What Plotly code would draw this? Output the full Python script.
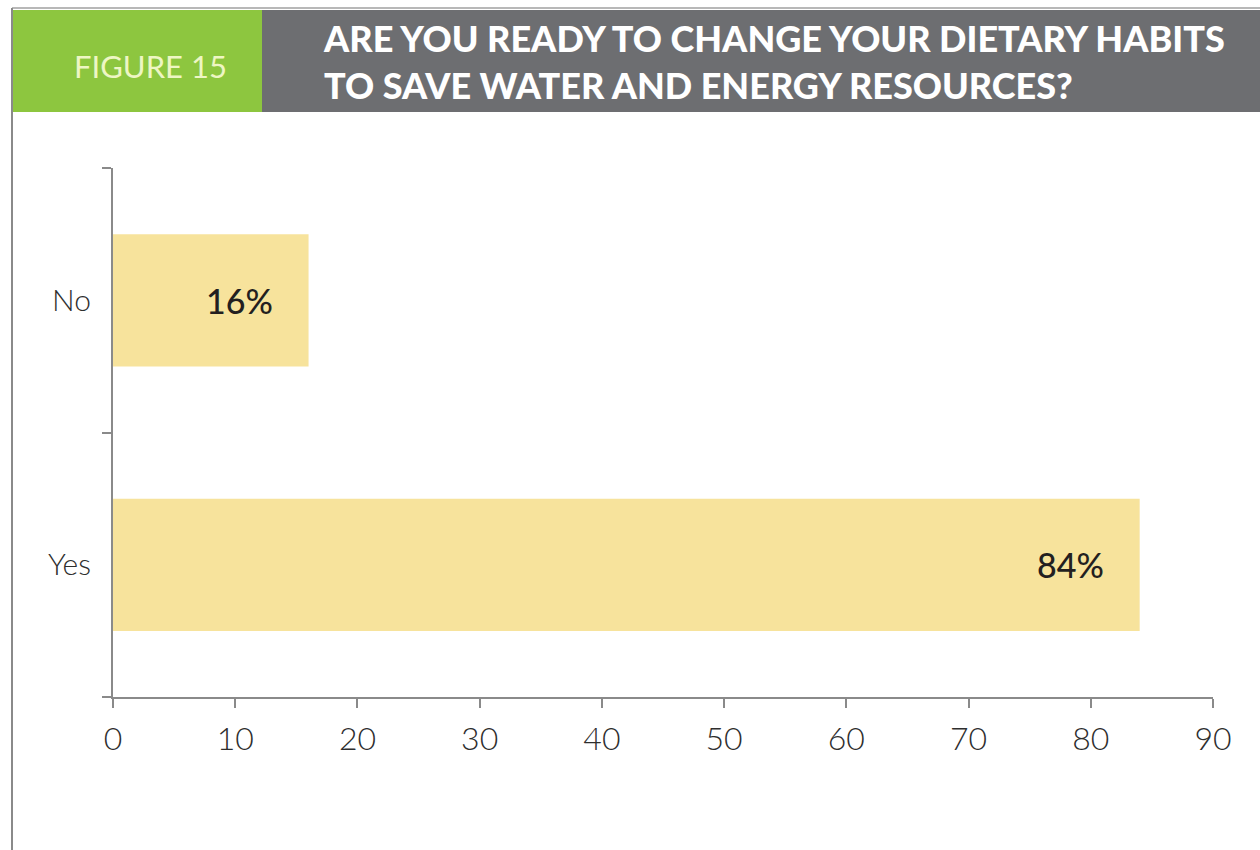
import plotly.graph_objects as go

# Survey answers (top to bottom as drawn: No, Yes)
answers = ["Yes", "No"]
shares = [84, 16]
x_ticks = [0, 10, 20, 30, 40, 50, 60, 70, 80, 90]

W, H = 1260, 850
L, R, T, B = 113, 47, 168, 153
PW, PH = W - L - R, H - T - B


def px_x(p):
    return (p - L) / PW


def px_y(p):
    return (H - B - p) / PH


BAR = "#f7e39c"
AXIS = "#8a8a8a"
GREEN = "#8dc63f"
GREY = "#6d6e71"
LABEL_FONT = "Lato"

fig = go.Figure(
    go.Bar(
        x=shares,
        y=answers,
        orientation="h",
        width=0.5,
        marker=dict(color=BAR, line=dict(width=0)),
        hoverinfo="skip",
    )
)

# value labels just inside the bar ends
for a, v in zip(answers, shares):
    fig.add_annotation(
        x=v, y=a, xref="x", yref="y",
        text=f"{v}%", showarrow=False,
        xanchor="right", xshift=-34,
        font=dict(family=LABEL_FONT, size=34, color="#231f20", weight=500),
    )

# header bands and frame
shapes = [
    dict(type="rect", xref="paper", yref="paper",
         x0=px_x(13), x1=px_x(262), y0=px_y(112), y1=px_y(10),
         fillcolor=GREEN, line=dict(width=0), layer="below"),
    dict(type="rect", xref="paper", yref="paper",
         x0=px_x(262), x1=px_x(1262), y0=px_y(112), y1=px_y(10),
         fillcolor=GREY, line=dict(width=0), layer="below"),
    dict(type="line", xref="paper", yref="paper",
         x0=px_x(12), x1=px_x(1262), y0=px_y(8), y1=px_y(8),
         line=dict(color="#a0a0a0", width=1.5)),
    dict(type="line", xref="paper", yref="paper",
         x0=px_x(12), x1=px_x(12), y0=px_y(8), y1=px_y(852),
         line=dict(color="#8a8a8a", width=2)),
]

annotations = [
    dict(xref="paper", yref="paper", x=px_x(150), y=px_y(66),
         text="FIGURE 15", showarrow=False, xanchor="center", yanchor="middle",
         font=dict(family=LABEL_FONT, size=31, color="#eef6c4")),
    dict(xref="paper", yref="paper", x=px_x(321), y=px_y(61),
         text="ARE YOU READY TO CHANGE YOUR DIETARY HABITS<br>TO SAVE WATER AND ENERGY RESOURCES?",
         showarrow=False, xanchor="left", yanchor="middle", align="left",
         font=dict(family=LABEL_FONT, size=36, color="white", weight=900)),
]

fig.update_layout(
    width=W, height=H,
    margin=dict(l=L, r=R, t=T, b=B, pad=0),
    paper_bgcolor="white", plot_bgcolor="white",
    showlegend=False,
    shapes=shapes,
    annotations=list(fig.layout.annotations) + annotations,
    xaxis=dict(
        range=[0, 90], tickvals=x_ticks, ticktext=[str(t) for t in x_ticks],
        showgrid=False, zeroline=False,
        showline=True, linecolor=AXIS, linewidth=2,
        ticks="outside", ticklen=9, tickwidth=2, tickcolor=AXIS,
        ticklabelstandoff=4,
        tickfont=dict(family=LABEL_FONT, size=32, color="#2e2e2e", weight=300),
        fixedrange=True,
    ),
    yaxis=dict(
        type="category", categoryorder="array", categoryarray=answers,
        range=[-0.5, 1.5],
        showgrid=False, zeroline=False,
        showline=True, linecolor=AXIS, linewidth=2,
        ticks="outside", tickson="boundaries", ticklen=9, tickwidth=2, tickcolor=AXIS,
        ticklabelstandoff=14,
        tickfont=dict(family=LABEL_FONT, size=30, color="#2e2e2e", weight=300),
        fixedrange=True,
    ),
)

fig.write_html("out.html")
